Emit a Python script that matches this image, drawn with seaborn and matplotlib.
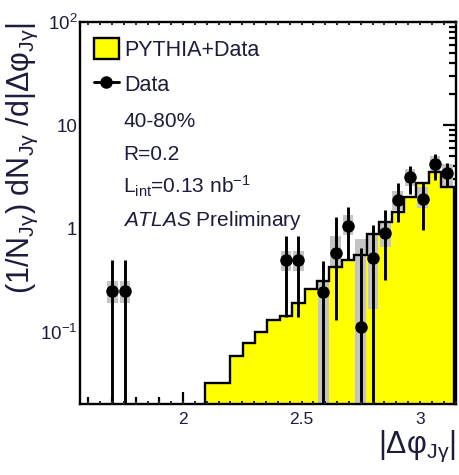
import numpy as np
import matplotlib
matplotlib.use("Agg")
import matplotlib.pyplot as plt
from matplotlib.patches import Patch
from matplotlib.lines import Line2D
from matplotlib.ticker import FixedLocator, FixedFormatter, MultipleLocator, NullFormatter
import seaborn as sns

# ---------------- data ----------------
# histogram (PYTHIA+Data): bins of width pi/60 from 40*pi/60 to pi
hist_edges = [k * np.pi / 60 for k in range(40, 61)]
hist_values = [0.032, 0.032, 0.058, 0.078, 0.100, 0.130, 0.143, 0.19, 0.26, 0.31,
               0.42, 0.50, 0.56, 0.88, 1.17, 1.46, 2.04, 2.78, 3.56, 2.50]

# data points
data_x = [1.702, 1.754, 2.435, 2.487, 2.592, 2.644, 2.697, 2.749, 2.801, 2.854,
          2.906, 2.958, 3.011, 3.063, 3.115]
data_y = [0.25, 0.25, 0.50, 0.50, 0.245, 0.58, 1.06, 0.111, 0.52, 0.91,
          1.89, 3.18, 1.92, 4.22, 3.43]
err_lo = [0.25, 0.25, 0.36, 0.36, 0.245, 0.45, 0.56, 0.111, 0.52, 0.59,
          0.72, 1.00, 0.95, 1.27, 0.88]
err_hi = [0.25, 0.25, 0.34, 0.34, 0.245, 0.70, 0.57, 0.53, 0.56, 0.60,
          0.86, 0.85, 0.92, 1.05, 0.86]
# systematic (grey boxes)
sys_lo = [0.19, 0.19, 0.39, 0.39, 0.0, 0.43, 0.86, 0.0, 0.165, 0.67,
          1.50, 2.60, 1.58, 3.50, 2.60]
sys_hi = [0.31, 0.31, 0.61, 0.61, 0.32, 0.84, 1.35, 0.80, 0.90, 1.12,
          2.30, 3.80, 2.55, 5.00, 4.20]

x_major = [2.0, 2.5, 3.0]
x_labels = ["2", "2.5", "3"]
y_major = [0.1, 1, 10, 100]
y_labels = [r"10$^{\mathregular{-1}}$", "1", "10", r"10$^{\mathregular{2}}$"]

legend_labels = ["PYTHIA+Data", "Data"]
info_lines = ["40-80%", "R=0.2", r"L$_{\mathregular{int}}$=0.13 nb$^{\mathregular{-1}}$",
              r"$\it{ATLAS}$ Preliminary"]
y_title = r"(1/N$_{\mathregular{Jγ}}$) dN$_{\mathregular{Jγ}}$ /d|Δφ$_{\mathregular{Jγ}}$|"
x_title = r"|Δφ$_{\mathregular{Jγ}}$|"

# ---------------- style ----------------
sns.set_theme(style="white")
plt.rcParams["font.family"] = ["Liberation Sans", "DejaVu Sans"]
plt.rcParams["mathtext.fontset"] = "custom"
plt.rcParams["mathtext.rm"] = "Liberation Sans"
plt.rcParams["mathtext.it"] = "Liberation Sans:italic"
plt.rcParams["mathtext.bf"] = "Liberation Sans:bold"
txt_color = "#1c1c3c"

fig = plt.figure(figsize=(4.59, 4.75), dpi=100)
ax = fig.add_axes([80 / 459, 1 - 404 / 475, 376 / 459, 382 / 475])

centers = [(a + b) / 2 for a, b in zip(hist_edges[:-1], hist_edges[1:])]
bw = hist_edges[1] - hist_edges[0]

sns.histplot(x=centers, weights=hist_values, bins=hist_edges, element="step",
             fill=True, color="#ffff00", alpha=1.0, linewidth=0, ax=ax, zorder=1)
ax.set_yscale("log")

# grey systematic boxes
ax.bar(data_x, np.array(sys_hi) - np.array(sys_lo), bottom=sys_lo, width=bw * 0.85,
       color="#c4c4c4", linewidth=0, zorder=2)

# histogram outline
ax.stairs(hist_values, hist_edges, baseline=1e-4, color="black", linewidth=1.7, zorder=3)

# data points
ax.errorbar(data_x, data_y, yerr=[err_lo, err_hi], fmt="o", color="black",
            ms=8, elinewidth=2.1, capsize=0, zorder=4)

ax.set_xlim(1.565, 3.152)
ax.set_ylim(0.02, 100)

for s in ax.spines.values():
    s.set_linewidth(1.7)
    s.set_color("black")

ax.xaxis.set_major_locator(FixedLocator(x_major))
ax.xaxis.set_major_formatter(FixedFormatter(x_labels))
ax.xaxis.set_minor_locator(MultipleLocator(0.1))
ax.xaxis.set_minor_formatter(NullFormatter())
ax.yaxis.set_major_locator(FixedLocator(y_major))
ax.yaxis.set_major_formatter(FixedFormatter(y_labels))
ax.yaxis.set_minor_locator(matplotlib.ticker.LogLocator(base=10, subs=np.arange(2, 10)))
ax.yaxis.set_minor_formatter(NullFormatter())

ax.tick_params(which="both", direction="in", top=True, right=True, width=1.6,
               colors="black", labelcolor=txt_color)
ax.tick_params(axis="x", which="major", length=8.5, labelsize=12.5, pad=6)
ax.tick_params(axis="x", which="minor", length=5)
ax.tick_params(axis="y", which="major", length=9.5, labelsize=13.5, pad=2)
ax.tick_params(axis="y", which="minor", length=5)

# small 0.05 ticks
ax2 = ax.twiny()
ax2.set_xlim(ax.get_xlim())
ax2.xaxis.set_major_locator(MultipleLocator(0.05))
ax2.tick_params(axis="x", which="major", direction="in", length=2.5, width=1.4,
                top=True, bottom=True, labeltop=False, labelbottom=False)
for s in ax2.spines.values():
    s.set_visible(False)

ax.set_ylabel(y_title, fontsize=22, loc="top", color=txt_color, labelpad=0)
ax.set_xlabel(x_title, fontsize=22, loc="right", color=txt_color, labelpad=1)

handles = [Patch(facecolor="#ffff00", edgecolor="black", linewidth=1.7),
           Line2D([], [], color="black", marker="o", ms=8, lw=2.1)]
leg = ax.legend(handles, legend_labels, loc="upper left",
                bbox_to_anchor=((94 - 80) / 376, 1 - (38 - 22) / 382),
                frameon=False, fontsize=15.5, handlelength=1.15, handleheight=1.15,
                handletextpad=0.25, labelspacing=0.55, borderpad=0, borderaxespad=0)
for t in leg.get_texts():
    t.set_color(txt_color)

ys = [0.725, 0.639, 0.552, 0.466]
for line, yy in zip(info_lines, ys):
    ax.text((123 - 80) / 376, yy, line, transform=ax.transAxes, fontsize=15,
            color=txt_color, va="baseline", ha="left")

fig.savefig("out.png", dpi=100)
